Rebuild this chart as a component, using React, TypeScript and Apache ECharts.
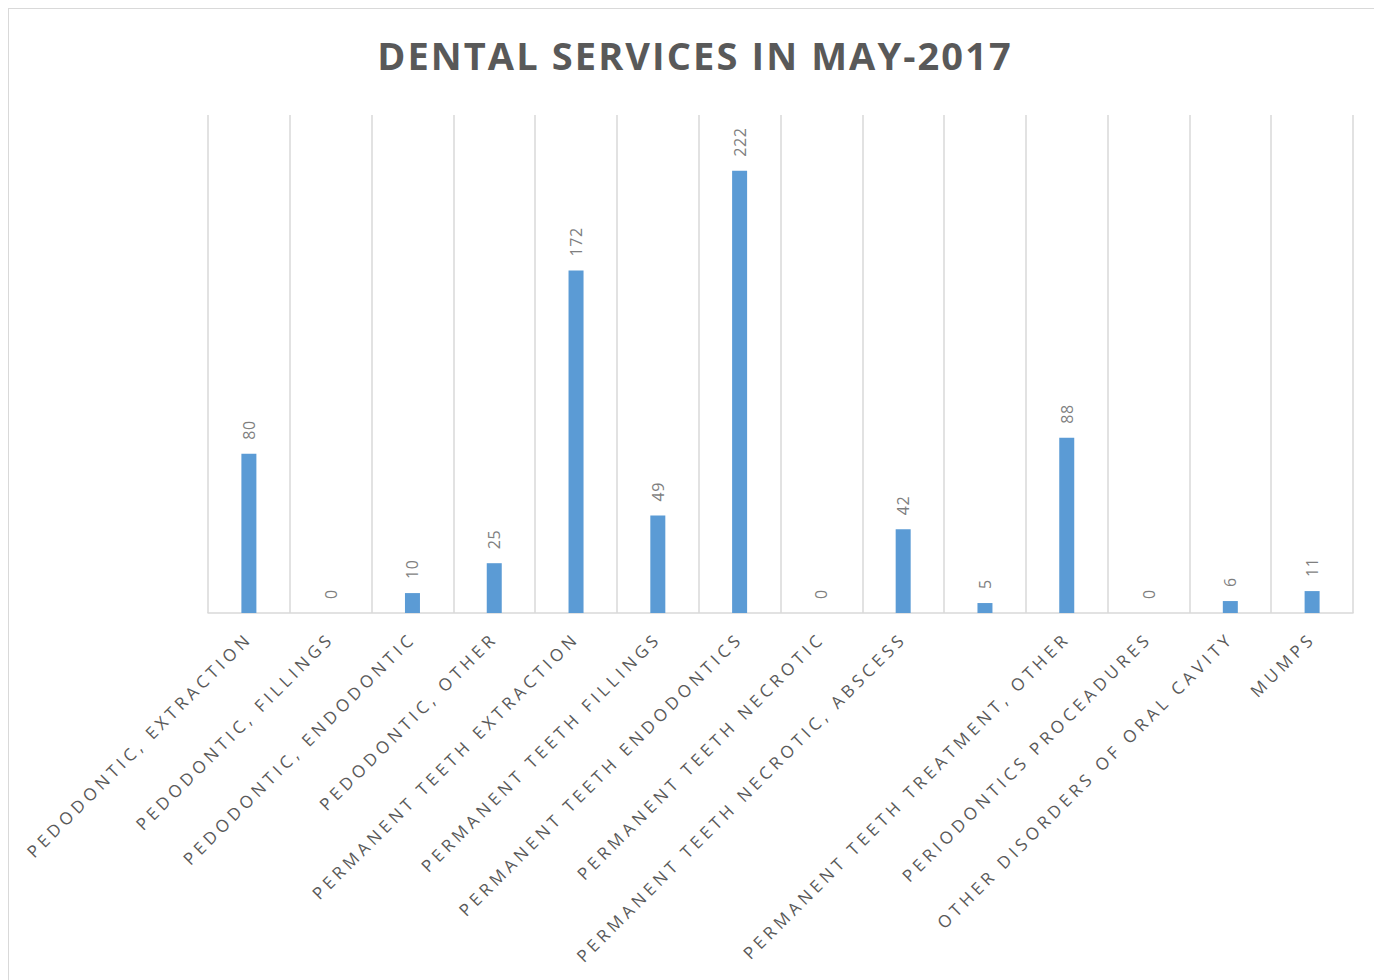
import React, { useEffect, useRef } from "react";
import * as echarts from "echarts";

const TITLE = "DENTAL SERVICES IN MAY-2017";

// The 10th category has no visible label in the reference
const categoryLabels: string[] = [
  "PEDODONTIC, EXTRACTION",
  "PEDODONTIC, FILLINGS",
  "PEDODONTIC, ENDODONTIC",
  "PEDODONTIC, OTHER",
  "PERMANENT TEETH EXTRACTION",
  "PERMANENT TEETH FILLINGS",
  "PERMANENT TEETH ENDODONTICS",
  "PERMANENT TEETH NECROTIC",
  "PERMANENT TEETH NECROTIC, ABSCESS",
  "",
  "PERMANENT TEETH TREATMENT, OTHER",
  "PERIODONTICS PROCEADURES",
  "OTHER DISORDERS OF ORAL CAVITY",
  "MUMPS",
];

const values: number[] = [80, 0, 10, 25, 172, 49, 222, 0, 42, 5, 88, 0, 6, 11];

const W = 1374;
const H = 980;

export default function App() {
  const ref = useRef<HTMLDivElement>(null);
  useEffect(() => {
    if (!ref.current) return;
    const chart = echarts.init(ref.current, null, { renderer: "svg" });
    chart.setOption({
      animation: false,
      backgroundColor: "#ffffff",
      graphic: [
        {
          type: "text",
          x: W / 2 - 1,
          y: 46,
          style: {
            text: TITLE,
            textAlign: "center",
            textVerticalAlign: "middle",
            fontFamily: "Open Sans",
            fontWeight: "bold",
            fontSize: 38,
            fill: "#595959",
          },
        },
      ],
      grid: { left: 199, right: 28, top: 106, bottom: 374 },
      xAxis: {
        type: "category",
        data: categoryLabels,
        boundaryGap: true,
        axisLine: { show: true, lineStyle: { color: "#d9d9d9", width: 1.5 } },
        axisTick: { show: false },
        splitLine: { show: true, lineStyle: { color: "#d9d9d9", width: 1.5 } },
        axisLabel: {
          interval: 0,
          rotate: 45,
          margin: 22,
          fontFamily: "Open Sans",
          fontSize: 17,
          color: "#595959",
        },
      },
      yAxis: {
        type: "value",
        min: 0,
        max: 250,
        show: false,
        splitLine: { show: false },
      },
      series: [
        {
          type: "bar",
          data: values,
          barWidth: 15,
          itemStyle: { color: "#5b9bd5" },
          label: {
            show: true,
            position: "top",
            rotate: 90,
            distance: 14,
            align: "left",
            verticalAlign: "middle",
            fontFamily: "Open Sans",
            fontSize: 16,
            color: "#7f7f7f",
          },
        },
      ],
    });

    const applySpacing = () => {
      const dom = chart.getDom();
      if (!dom) return;
      const texts = dom.querySelectorAll("text");
      texts.forEach((t) => {
        const s = (t.textContent || "").trim();
        if (s === TITLE) {
          t.setAttribute("letter-spacing", "2.1");
        } else if (categoryLabels.indexOf(s) >= 0 && s !== "") {
          t.setAttribute("letter-spacing", "4.2");
        } else if (/^\d+$/.test(s)) {
          t.setAttribute("letter-spacing", "0.6");
        }
      });
    };
    applySpacing();
    chart.on("rendered", applySpacing);
    const timer = setTimeout(applySpacing, 0);

    return () => {
      clearTimeout(timer);
      chart.dispose();
    };
  }, []);
  return (
    <div
      ref={ref}
      style={{
        width: W,
        height: H,
        boxSizing: "border-box",
        border: "1px solid #d9d9d9",
      }}
    />
  );
}
